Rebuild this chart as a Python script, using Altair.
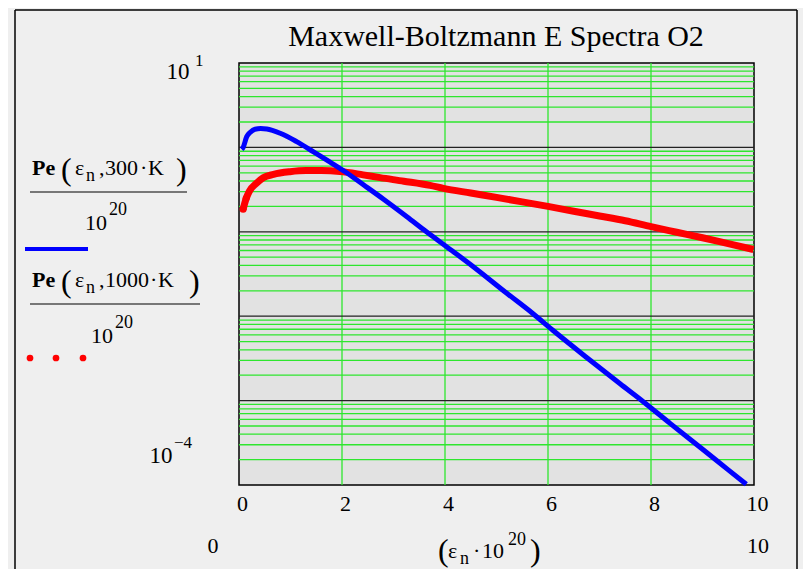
import altair as alt
import pandas as pd

# ---------------- data ----------------
title_text = "Maxwell-Boltzmann E Spectra O2"
x_tick_values = [0, 2, 4, 6, 8, 10]
y_domain = [1e-4, 10]

eps_300 = [0.05, 0.08, 0.15, 0.22, 0.31, 0.42, 0.54, 0.8, 1.12, 1.44, 1.77, 2.06, 2.41, 2.8,
           3.26, 3.64, 4.03, 4.55, 5.2, 5.71, 6.1, 6.75, 7.4, 7.85, 8.37, 9.02, 9.5, 9.85]
pe_300 = [0.95, 1.0, 1.34, 1.51, 1.64, 1.67, 1.65, 1.47, 1.17, 0.891, 0.668, 0.515, 0.363, 0.245,
          0.151, 0.1, 0.0667, 0.0386, 0.0187, 0.0107, 0.00676, 0.00324, 0.00158, 0.00097,
          0.000537, 0.00026, 0.000151, 0.000102]

eps_1000 = [0.08, 0.14, 0.2, 0.34, 0.47, 0.67, 0.99, 1.3, 1.6, 1.96, 2.41, 2.74, 3.2, 3.71,
            3.97, 4.5, 5.0, 5.5, 6.0, 6.5, 7.0, 7.5, 8.0, 8.5, 9.0, 9.5, 9.99]
pe_1000 = [0.185, 0.249, 0.302, 0.376, 0.437, 0.479, 0.515, 0.531, 0.531, 0.519, 0.473, 0.438,
           0.398, 0.355, 0.327, 0.288, 0.256, 0.226, 0.2, 0.175, 0.154, 0.135, 0.115, 0.0989,
           0.0851, 0.0724, 0.0617]

decade_lines = [1e-3, 1e-2, 1e-1, 1.0]
minor_lines = [k * 10.0 ** d for d in range(-4, 1) for k in range(2, 10)]
x_grid = [2, 4, 6, 8]

# ---------------- layout ----------------
OX, OY = 239, 63          # plot origin on the page
W, H = 515, 422
SERIF = "Liberation Serif"
GREEN = "#2ee62e"

xscale = alt.Scale(domain=[0, 10], nice=False, zero=False)
yscale = alt.Scale(type="log", domain=y_domain, nice=False)

x_axis = alt.Axis(values=x_tick_values, labelFont=SERIF, labelFontSize=22, labelColor="black",
                  ticks=False, tickSize=0, domain=False, grid=False, title=None,
                  labelBaseline="alphabetic", labelPadding=25, labelOffset=3,
                  labelFlush=False)

one = alt.Data(values=[{"k": 0}])


def txt(s, px, py, size=22, align="left", bold=False):
    return alt.Chart(one).mark_text(
        text=s, font=SERIF, fontSize=size, align=align, baseline="alphabetic",
        fontWeight="bold" if bold else "normal", color="black"
    ).encode(x=alt.value(px - OX), y=alt.value(py - OY))


def hline(x1, x2, py, color="black", width=1.2):
    return alt.Chart(one).mark_rule(color=color, strokeWidth=width).encode(
        x=alt.value(x1 - OX), x2=alt.value(x2 - OX), y=alt.value(py - OY))


def vline(px, y1, y2, color="black", width=1.5):
    return alt.Chart(one).mark_rule(color=color, strokeWidth=width).encode(
        x=alt.value(px - OX), y=alt.value(y1 - OY), y2=alt.value(y2 - OY))


def dot(px, py, color="red"):
    return alt.Chart(one).mark_circle(color=color, size=45, opacity=1).encode(
        x=alt.value(px - OX), y=alt.value(py - OY))


frame = [
    hline(15, 797, 10, width=1.5),
    vline(15, 10, 600),
    vline(797, 10, 600),
]

df_minor = pd.DataFrame({"v": minor_lines})
df_dec = pd.DataFrame({"v": decade_lines})
df_xg = pd.DataFrame({"e": x_grid})

g_minor = alt.Chart(df_minor).mark_rule(color=GREEN, strokeWidth=1.3).encode(
    y=alt.Y("v:Q", scale=yscale, axis=None))
g_x = alt.Chart(df_xg).mark_rule(color=GREEN, strokeWidth=1.3).encode(
    x=alt.X("e:Q", scale=xscale, axis=x_axis))
g_dec = alt.Chart(df_dec).mark_rule(color="#222222", strokeWidth=1.3).encode(
    y=alt.Y("v:Q", scale=yscale, axis=None))

df300 = pd.DataFrame({"e": eps_300, "p": pe_300})
df1000 = pd.DataFrame({"e": eps_1000, "p": pe_1000})

blue = alt.Chart(df300).mark_line(color="#0000ff", strokeWidth=5, interpolate="monotone").encode(
    x=alt.X("e:Q", scale=xscale, axis=x_axis),
    y=alt.Y("p:Q", scale=yscale, axis=None))
red = alt.Chart(df1000).mark_line(color="#ff0000", strokeWidth=7, interpolate="monotone").encode(
    x=alt.X("e:Q", scale=xscale, axis=x_axis),
    y=alt.Y("p:Q", scale=yscale, axis=None))
red_pts = alt.Chart(df1000.iloc[:2]).mark_circle(color="#ff0000", size=50, opacity=1).encode(
    x=alt.X("e:Q", scale=xscale, axis=x_axis),
    y=alt.Y("p:Q", scale=yscale, axis=None))

texts = [
    txt(title_text, 496, 46, size=30, align="center"),
    # y limits
    txt("10", 178, 79, size=23, align="center"),
    txt("1", 195, 66, size=17),
    txt("10", 161, 463, size=23, align="center"),
    txt("\u22124", 174, 448, size=17),
    # x range below axis
    txt("0", 213, 553, size=22, align="center"),
    txt("10", 758, 553, size=22, align="center"),
    txt("(", 438, 561, size=32),
    txt("\u03b5", 448, 558, size=22),
    txt("n", 460, 564, size=18),
    txt("\u00b7", 473, 558, size=22),
    txt("10", 482, 558, size=22),
    txt("20", 508, 545, size=18),
    txt(")", 530, 561, size=32),
    # legend entry 1
    txt("Pe", 32, 175, size=22, bold=True),
    txt("(", 61, 180, size=32),
    txt("\u03b5", 75, 175, size=22),
    txt("n", 86, 181, size=18),
    txt(",", 99, 175, size=22),
    txt("300", 105, 175, size=22),
    txt("\u00b7", 140, 175, size=22),
    txt("K", 148, 175, size=22),
    txt(")", 176, 180, size=32),
    txt("10", 85, 230, size=22),
    txt("20", 109, 215, size=18),
    # legend entry 2
    txt("Pe", 32, 287, size=22, bold=True),
    txt("(", 61, 292, size=32),
    txt("\u03b5", 75, 287, size=22),
    txt("n", 86, 293, size=18),
    txt(",", 99, 287, size=22),
    txt("1000", 105, 287, size=22),
    txt("\u00b7", 150, 287, size=22),
    txt("K", 158, 287, size=22),
    txt(")", 189, 292, size=32),
    txt("10", 91, 343, size=22),
    txt("20", 115, 328, size=18),
]

legend_marks = [
    hline(30, 187, 192, width=1.2),
    hline(30, 200, 304, width=1.2),
    hline(25, 88, 249, color="#0000ff", width=4),
    dot(30, 358), dot(56, 358), dot(83, 358),
]

chart = alt.layer(
    *frame, g_minor, g_x, g_dec, red, red_pts, blue, *legend_marks, *texts
).properties(
    width=W, height=H,
    autosize=alt.AutoSizeParams(type="none"),
    padding={"left": OX - 8, "top": OY - 8, "right": 811 - 16 - (OX - 8) - W, "bottom": 84},
    background="#efefef",
).configure_view(
    stroke="black", strokeWidth=1.5, fill="#e2e2e2"
)

chart.save("out.html", embed_options={"renderer": "svg", "actions": False})
